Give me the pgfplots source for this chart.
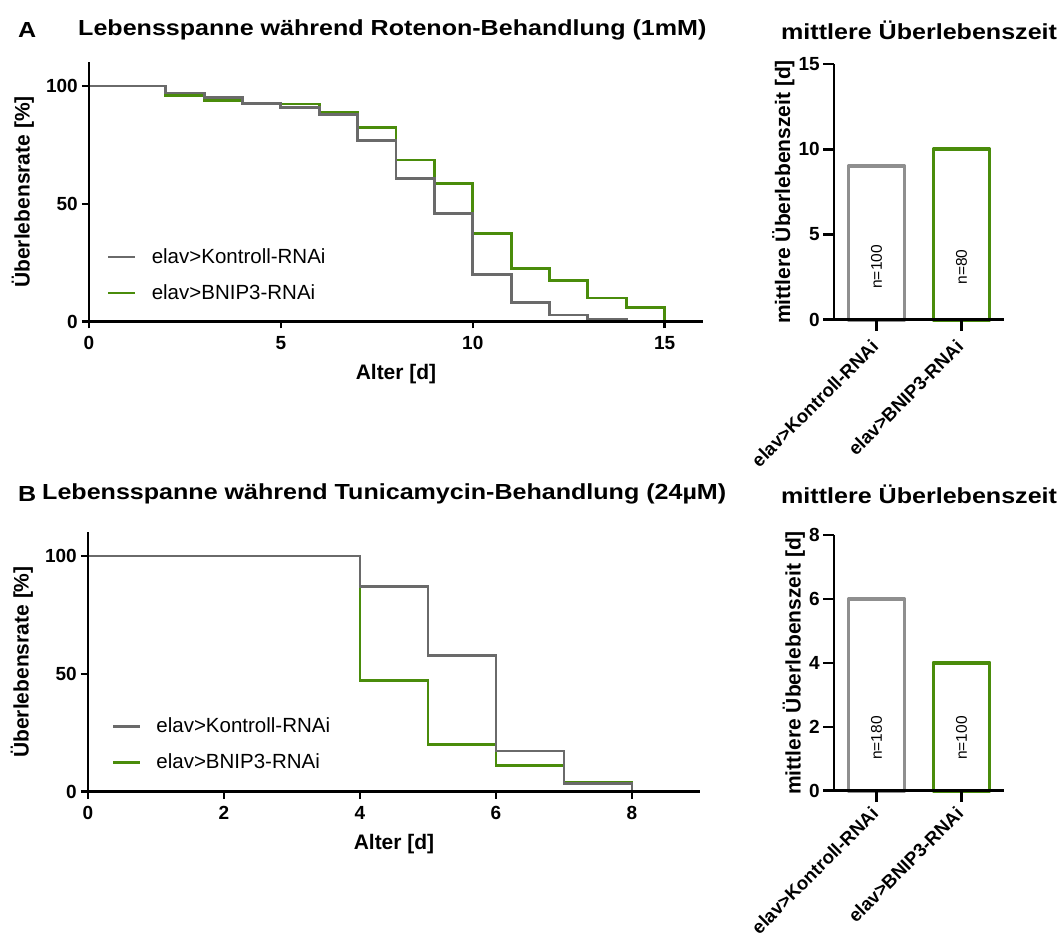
\documentclass[border=0pt]{standalone}
\usepackage{pgfplots}
\pgfplotsset{compat=1.18}
\usepackage{fontspec}
\setmainfont{Liberation Sans}
\usepackage{graphicx}

\definecolor{kgray}{HTML}{6A6A6A}
\definecolor{bgray}{HTML}{8F8F8F}
\definecolor{bgreen}{HTML}{4A8C0B}

\newcommand{\fs}[1]{\fontsize{#1bp}{#1bp}\selectfont}
\newcommand{\ttl}[1]{\scalebox{1.15}[1]{\fs{21.8}\bfseries #1}}

\pgfplotsset{
  gp/.style={
    scale only axis,
    axis x line*=bottom, axis y line*=left,
    axis line style={line width=2.5bp, black},
    tick align=outside,
    major tick style={line width=2.5bp, black},
    tick label style={font={\fs{19}\bfseries}},
    /pgf/number format/assume math mode=true,
    label style={font={\fs{21}\bfseries}},
    axis on top,
    clip=false,
  },
  surv/.style={
    gp, major tick length=7bp,
    ymin=0, ymax=110, ytick={0,50,100},
    xlabel={Alter [d]}, ylabel={Überlebensrate [\%]},
    xticklabel style={inner sep=8bp},
    yticklabel style={inner sep=4bp},
    xlabel style={inner sep=6bp},
    ylabel style={inner sep=8bp},
    reverse legend,
    legend image code/.code={\draw[##1, line width=2.8bp] (0bp,0bp) -- (27bp,0bp);},
    legend style={draw=none, fill=none, anchor=west, inner sep=0pt, outer sep=0pt,
      row sep=14bp, column sep=15bp,
      nodes={inner sep=0pt, text height=17bp, text depth=5bp, font=\fs{20.5}}},
    legend cell align=left,
  },
  barax/.style={
    gp, major tick length=11bp,
    xmin=-0.5, xmax=1.5, ymin=0,
    xtick={0,1}, xticklabels={elav>Kontroll-RNAi, elav>BNIP3-RNAi},
    xticklabel style={yshift=#1, rotate=45, anchor=east, inner sep=2bp, font={\fs{18.6}\bfseries}},
    yticklabel style={inner sep=3bp},
    ylabel={mittlere Überlebenszeit [d]},
    ylabel style={inner sep=1bp},
  },
  obar/.style={ybar, bar shift=0pt, bar width=56bp, fill=white, line width=3.8bp, line join=round},
}

\begin{document}
\begin{tikzpicture}
\useasboundingbox (0,0) rectangle (1058bp,938bp);

% titles
\node[anchor=west, inner sep=0pt] at (18bp,908bp) {\ttl{A}};
\node[anchor=west, inner sep=0pt] at (78bp,908bp) {\ttl{Lebensspanne während Rotenon-Behandlung (1mM)}};
\node[anchor=west, inner sep=0pt] at (781bp,908bp) {\ttl{mittlere Überlebenszeit}};
\node[anchor=west, inner sep=0pt] at (18bp,444bp) {\ttl{B}};
\node[anchor=west, inner sep=0pt] at (42bp,444bp) {\ttl{Lebensspanne während Tunicamycin-Behandlung (24µM)}};
\node[anchor=west, inner sep=0pt] at (781bp,444bp) {\ttl{mittlere Überlebenszeit}};

% Panel A survival
\begin{axis}[surv, at={(89bp,616.5bp)}, anchor=south west, width=614bp, height=259bp,
  xmin=0, xmax=16, xtick={0,5,10,15},
  legend style={at={(axis description cs:0.0293,0.1795)}}]
\addplot[const plot, bgreen, line width=2.8bp] coordinates {
 (0,100) (2,96) (3,93.8) (4,92.4) (6,88.6) (7,82.3) (8,68.6) (9,58.6)
 (10,37.4) (11,22.4) (12,17.4) (13,10) (14,6.1) (15,0)};
\addlegendentry{elav>BNIP3-RNAi}
\addplot[const plot, kgray, line width=2.8bp] coordinates {
 (0,100) (2,97) (3,95) (4,92.7) (5,90.8) (6,88) (7,77) (8,60.7) (9,46)
 (10,20) (11,8) (12,2.8) (13,1) (14,0)};
\addlegendentry{elav>Kontroll-RNAi}
\end{axis}

% Panel A bars
\begin{axis}[barax=-11bp, at={(834bp,618.3bp)}, anchor=south west, width=170bp, height=255.5bp,
  ymax=15, ytick={0,5,10,15}]
\addplot[obar, draw=bgray] coordinates {(0,9)};
\addplot[obar, draw=bgreen] coordinates {(1,10)};
\node[rotate=90, font=\fs{15.5}] at (axis cs:0,3.1) {n=100};
\node[rotate=90, font=\fs{15.5}] at (axis cs:1,3.1) {n=80};
\end{axis}

% Panel B survival
\begin{axis}[surv, at={(88bp,146.5bp)}, anchor=south west, width=612bp, height=259bp,
  xmin=0, xmax=9, xtick={0,2,4,6,8},
  legend style={at={(axis description cs:0.0386,0.1807)}}]
\addplot[const plot, bgreen, line width=2.8bp] coordinates {
 (0,100) (4,47) (5,20) (6,11) (7,4) (8,0)};
\addlegendentry{elav>BNIP3-RNAi}
\addplot[const plot, kgray, line width=2.8bp] coordinates {
 (0,100) (4,87) (5,57.6) (6,17.2) (7,3.5) (8,0)};
\addlegendentry{elav>Kontroll-RNAi}
\end{axis}

% Panel B bars
\begin{axis}[barax=-7bp, at={(834bp,147.3bp)}, anchor=south west, width=170bp, height=255.7bp,
  ymax=8, ytick={0,2,4,6,8}]
\addplot[obar, draw=bgray] coordinates {(0,6)};
\addplot[obar, draw=bgreen] coordinates {(1,4)};
\node[rotate=90, font=\fs{15.5}] at (axis cs:0,1.65) {n=180};
\node[rotate=90, font=\fs{15.5}] at (axis cs:1,1.65) {n=100};
\end{axis}
\end{tikzpicture}
\end{document}
